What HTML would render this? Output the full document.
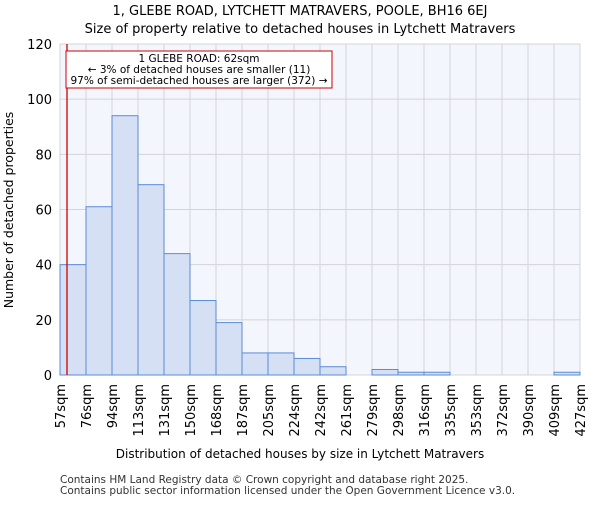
<!DOCTYPE html>
<html><head><meta charset="utf-8"><style>
body{margin:0;background:#fff;}
svg{font-family:"DejaVu Sans","Liberation Sans",sans-serif;}
</style></head><body>
<svg id="chart" width="600" height="500">
<text x="300" y="15" text-anchor="middle" font-size="13">1, GLEBE ROAD, LYTCHETT MATRAVERS, POOLE, BH16 6EJ</text>
<text x="300" y="33" text-anchor="middle" font-size="13">Size of property relative to detached houses in Lytchett Matravers</text>
<rect x="60" y="44" width="520" height="331" fill="#f3f6fd"/>
<g id="grid"></g><g id="bars"></g><g id="axes"></g>
<line x1="67" y1="44" x2="67" y2="375" stroke="#cc0000" stroke-width="1.3"/>
<g>
<rect x="66" y="51" width="266" height="37" fill="#fff" stroke="#cc0000" stroke-width="1"/>
<text x="199" y="62" text-anchor="middle" font-size="10.5">1 GLEBE ROAD: 62sqm</text>
<text x="199" y="73" text-anchor="middle" font-size="10.5">← 3% of detached houses are smaller (11)</text>
<text x="199" y="84" text-anchor="middle" font-size="10.5">97% of semi-detached houses are larger (372) →</text>
</g>
<text x="300" y="458" text-anchor="middle" font-size="12">Distribution of detached houses by size in Lytchett Matravers</text>
<text transform="translate(13,210) rotate(-90)" text-anchor="middle" font-size="12.5">Number of detached properties</text>
<text x="60" y="483" font-size="10.5" fill="#333">Contains HM Land Registry data © Crown copyright and database right 2025.</text>
<text x="60" y="494" font-size="10.5" fill="#333">Contains public sector information licensed under the Open Government Licence v3.0.</text>
</svg>
<script>
const binLabels=["57sqm","76sqm","94sqm","113sqm","131sqm","150sqm","168sqm","187sqm","205sqm","224sqm","242sqm","261sqm","279sqm","298sqm","316sqm","335sqm","353sqm","372sqm","390sqm","409sqm","427sqm"];
const counts=[40,61,94,69,44,27,19,8,8,6,3,0,2,1,1,0,0,0,0,1];
const yTicks=[0,20,40,60,80,100,120];
const NS="http://www.w3.org/2000/svg";
const X0=60,X1=580,Y0=375,Y1=44,YMAX=120;
const n=counts.length;
const xs=i=>X0+(X1-X0)*i/n;
const ys=v=>Y0-(Y0-Y1)*v/YMAX;
function mk(t,a,p){const e=document.createElementNS(NS,t);for(const k in a)e.setAttribute(k,a[k]);p.appendChild(e);return e;}
const grid=document.getElementById('grid'),bars=document.getElementById('bars'),axes=document.getElementById('axes');
for(let i=0;i<=n;i++){const l=mk('line',{x1:xs(i),x2:xs(i),y1:Y1,y2:Y0,stroke:'#d4d4d4','stroke-width':1},grid);

}
yTicks.forEach(v=>{const l=mk('line',{x1:X0,x2:X1,y1:ys(v),y2:ys(v),stroke:'#d4d4d4','stroke-width':1},grid);


const t=mk('text',{x:X0-8,y:ys(v)+5,'text-anchor':'end','font-size':13},axes);t.textContent=v;

});
counts.forEach((c,i)=>{if(c<=0)return;const r=mk('rect',{x:xs(i),y:ys(c),width:xs(i+1)-xs(i),height:Y0-ys(c),fill:'#d6e0f4',stroke:'#5b8bd6','stroke-width':1},bars);

});
binLabels.forEach((s,i)=>{const t=mk('text',{transform:`translate(${xs(i)+5},384) rotate(-90)`,'text-anchor':'end','font-size':13},axes);t.textContent=s;

});
</script>
</body></html>
